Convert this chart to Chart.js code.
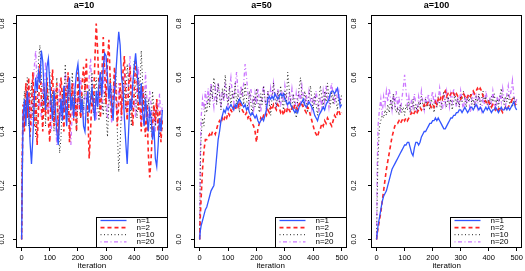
<!DOCTYPE html>
<html><head><meta charset="utf-8">
<script src="https://cdn.jsdelivr.net/npm/chart.js@4/dist/chart.umd.min.js"></script>
<style>
html,body{margin:0;padding:0;background:#fff;}
#wrap{position:relative;width:525px;height:271px;overflow:hidden;background:#fff;}
canvas{position:absolute;top:0;}
</style></head>
<body><div id="wrap">
<canvas id="c1" width="175" height="271" style="left:0px"></canvas>
<canvas id="c2" width="175" height="271" style="left:175px"></canvas>
<canvas id="c3" width="175" height="271" style="left:350px"></canvas>
</div>
<script>
const ITER = [0,2,5,10,15,20,25,30,35,40,
 45,50,55,60,65,70,75,80,85,90,
 95,100,105,110,115,120,125,130,135,140,
 145,150,155,160,165,170,175,180,185,190,
 195,200,205,210,215,220,225,230,235,240,
 245,250,255,260,265,270,275,280,285,290,
 295,300,305,310,315,320,325,330,335,340,
 345,350,355,360,365,370,375,380,385,390,
 395,400,405,410,415,420,425,430,435,440,
 445,450,455,460,465,470,475,480,485,490,
 495,500];

const X_TICKS = [0,100,200,300,400,500];
const Y_TICKS = [0.0,0.2,0.4,0.6,0.8];
const PANEL_TITLES = ['a=10','a=50','a=100'];
const SERIES_NAMES = ['n=1','n=2','n=10','n=20'];

// a=10
const A10_N1 = [0.00,0.20,0.45,0.52,0.42,0.55,0.48,0.36,0.28,0.38,
 0.52,0.60,0.55,0.62,0.58,0.70,0.66,0.55,0.48,0.64,
 0.67,0.58,0.50,0.44,0.55,0.48,0.40,0.35,0.45,0.52,
 0.44,0.57,0.50,0.42,0.55,0.60,0.48,0.53,0.45,0.56,
 0.62,0.65,0.58,0.47,0.52,0.42,0.40,0.50,0.55,0.47,
 0.52,0.56,0.50,0.44,0.55,0.49,0.58,0.62,0.53,0.64,
 0.69,0.68,0.60,0.52,0.58,0.50,0.44,0.55,0.62,0.70,
 0.77,0.72,0.60,0.56,0.45,0.36,0.28,0.40,0.52,0.48,
 0.58,0.64,0.69,0.62,0.55,0.50,0.58,0.47,0.42,0.52,
 0.46,0.40,0.48,0.45,0.37,0.42,0.30,0.27,0.35,0.45,
 0.40,0.48];
const A10_N2 = [0.00,0.25,0.50,0.40,0.58,0.45,0.60,0.38,0.50,0.62,
 0.42,0.55,0.35,0.48,0.65,0.52,0.40,0.57,0.46,0.60,
 0.44,0.36,0.55,0.63,0.42,0.50,0.58,0.38,0.47,0.60,
 0.52,0.40,0.56,0.46,0.62,0.36,0.50,0.58,0.44,0.53,
 0.40,0.62,0.50,0.45,0.58,0.64,0.55,0.67,0.48,0.30,
 0.40,0.55,0.48,0.66,0.80,0.70,0.56,0.45,0.60,0.75,
 0.62,0.50,0.66,0.74,0.58,0.45,0.52,0.64,0.55,0.42,
 0.50,0.58,0.46,0.62,0.68,0.52,0.44,0.56,0.64,0.50,
 0.42,0.55,0.66,0.60,0.48,0.52,0.40,0.57,0.46,0.38,
 0.50,0.32,0.23,0.30,0.42,0.50,0.44,0.52,0.40,0.48,
 0.36,0.45];
const A10_N10 = [0.00,0.30,0.45,0.55,0.48,0.60,0.42,0.52,0.58,0.45,
 0.55,0.38,0.50,0.66,0.72,0.60,0.48,0.55,0.42,0.58,
 0.50,0.62,0.47,0.55,0.40,0.52,0.60,0.45,0.32,0.38,
 0.55,0.48,0.65,0.52,0.44,0.57,0.50,0.62,0.46,0.55,
 0.40,0.52,0.58,0.45,0.54,0.48,0.60,0.52,0.44,0.56,
 0.50,0.62,0.47,0.55,0.60,0.50,0.44,0.58,0.52,0.46,
 0.55,0.48,0.38,0.50,0.60,0.54,0.46,0.58,0.62,0.40,
 0.25,0.35,0.50,0.60,0.55,0.48,0.65,0.58,0.50,0.42,
 0.56,0.66,0.52,0.45,0.60,0.54,0.70,0.58,0.48,0.55,
 0.44,0.52,0.46,0.40,0.55,0.48,0.42,0.50,0.45,0.38,
 0.44,0.40];
const A10_N20 = [0.00,0.35,0.48,0.44,0.52,0.46,0.58,0.50,0.42,0.55,
 0.64,0.70,0.56,0.48,0.52,0.45,0.58,0.50,0.66,0.55,
 0.46,0.52,0.40,0.48,0.56,0.44,0.35,0.50,0.58,0.45,
 0.52,0.47,0.62,0.55,0.50,0.44,0.35,0.48,0.58,0.52,
 0.45,0.55,0.48,0.60,0.50,0.44,0.56,0.52,0.47,0.60,
 0.67,0.54,0.46,0.52,0.44,0.56,0.50,0.62,0.48,0.55,
 0.68,0.52,0.45,0.56,0.50,0.43,0.55,0.62,0.50,0.46,
 0.58,0.52,0.44,0.55,0.62,0.50,0.46,0.60,0.68,0.55,
 0.48,0.52,0.45,0.58,0.64,0.50,0.42,0.55,0.48,0.62,
 0.52,0.45,0.55,0.50,0.42,0.48,0.40,0.52,0.46,0.54,
 0.44,0.50];

// a=50
const A50_N1 = [0.00,0.03,0.05,0.07,0.09,0.11,0.12,0.14,0.16,0.18,
 0.19,0.20,0.25,0.31,0.37,0.40,0.44,0.46,0.48,0.47,
 0.49,0.48,0.49,0.50,0.49,0.48,0.50,0.49,0.51,0.52,
 0.51,0.50,0.49,0.50,0.48,0.49,0.47,0.46,0.47,0.46,
 0.45,0.46,0.44,0.43,0.44,0.45,0.44,0.46,0.48,0.52,
 0.53,0.52,0.53,0.52,0.54,0.53,0.52,0.53,0.54,0.53,
 0.54,0.52,0.51,0.50,0.51,0.50,0.49,0.48,0.47,0.48,
 0.47,0.49,0.50,0.51,0.52,0.50,0.49,0.50,0.51,0.50,
 0.49,0.48,0.46,0.45,0.44,0.46,0.47,0.48,0.49,0.48,
 0.50,0.51,0.52,0.54,0.55,0.55,0.54,0.55,0.56,0.53,
 0.49,0.50];
const A50_N2 = [0.00,0.08,0.15,0.26,0.33,0.37,0.37,0.38,0.39,0.38,
 0.40,0.40,0.39,0.41,0.43,0.44,0.43,0.45,0.44,0.46,
 0.45,0.47,0.46,0.48,0.47,0.49,0.48,0.50,0.49,0.51,
 0.50,0.48,0.47,0.46,0.47,0.45,0.46,0.44,0.43,0.42,
 0.40,0.36,0.41,0.43,0.45,0.44,0.46,0.47,0.46,0.48,
 0.47,0.49,0.48,0.50,0.49,0.48,0.50,0.49,0.47,0.48,
 0.46,0.48,0.47,0.49,0.48,0.47,0.49,0.48,0.50,0.49,
 0.48,0.50,0.51,0.50,0.49,0.48,0.47,0.49,0.48,0.46,
 0.44,0.42,0.40,0.39,0.38,0.40,0.41,0.43,0.42,0.44,
 0.43,0.45,0.44,0.43,0.42,0.44,0.46,0.45,0.47,0.48,
 0.46,0.47];
const A50_N10 = [0.00,0.25,0.38,0.45,0.42,0.50,0.47,0.53,0.49,0.57,
 0.52,0.60,0.55,0.50,0.58,0.53,0.48,0.56,0.52,0.61,
 0.54,0.50,0.57,0.49,0.55,0.52,0.58,0.50,0.54,0.47,
 0.53,0.56,0.50,0.58,0.52,0.48,0.55,0.51,0.46,0.53,
 0.49,0.56,0.51,0.47,0.54,0.50,0.57,0.52,0.48,0.55,
 0.50,0.46,0.53,0.58,0.52,0.49,0.55,0.51,0.57,0.52,
 0.48,0.55,0.50,0.62,0.56,0.51,0.48,0.54,0.50,0.45,
 0.52,0.56,0.60,0.53,0.49,0.55,0.51,0.47,0.53,0.57,
 0.52,0.48,0.54,0.50,0.46,0.52,0.57,0.53,0.49,0.55,
 0.51,0.58,0.53,0.49,0.55,0.50,0.54,0.52,0.48,0.53,
 0.50,0.54];
const A50_N20 = [0.00,0.30,0.45,0.52,0.48,0.55,0.50,0.56,0.51,0.58,
 0.53,0.49,0.56,0.52,0.58,0.54,0.50,0.55,0.51,0.57,
 0.53,0.49,0.56,0.60,0.54,0.50,0.57,0.62,0.55,0.51,
 0.57,0.53,0.58,0.65,0.60,0.54,0.50,0.56,0.52,0.48,
 0.54,0.50,0.56,0.52,0.47,0.53,0.57,0.52,0.48,0.55,
 0.51,0.56,0.52,0.58,0.54,0.50,0.56,0.52,0.49,0.55,
 0.51,0.57,0.53,0.49,0.55,0.51,0.56,0.52,0.48,0.54,
 0.50,0.55,0.51,0.57,0.53,0.49,0.54,0.50,0.55,0.52,
 0.48,0.53,0.50,0.55,0.51,0.47,0.53,0.49,0.55,0.51,
 0.57,0.53,0.49,0.55,0.58,0.53,0.50,0.56,0.52,0.55,
 0.51,0.53];

// a=100
const A100_N1 = [0.00,0.02,0.05,0.08,0.11,0.14,0.16,0.17,0.18,0.20,
 0.22,0.24,0.26,0.27,0.28,0.29,0.30,0.31,0.32,0.33,
 0.34,0.35,0.35,0.36,0.36,0.34,0.32,0.31,0.34,0.36,
 0.36,0.35,0.36,0.38,0.39,0.40,0.40,0.41,0.42,0.43,
 0.43,0.44,0.44,0.45,0.44,0.45,0.44,0.43,0.42,0.41,
 0.41,0.42,0.43,0.44,0.45,0.45,0.46,0.46,0.47,0.47,
 0.48,0.48,0.47,0.48,0.49,0.48,0.47,0.48,0.49,0.49,
 0.48,0.49,0.50,0.49,0.48,0.49,0.48,0.47,0.48,0.49,
 0.48,0.49,0.48,0.47,0.48,0.48,0.49,0.48,0.47,0.48,
 0.49,0.48,0.48,0.49,0.48,0.49,0.48,0.49,0.50,0.51,
 0.49,0.48];
const A100_N2 = [0.00,0.02,0.04,0.07,0.10,0.14,0.18,0.22,0.26,0.29,
 0.32,0.35,0.38,0.40,0.42,0.43,0.43,0.44,0.43,0.44,
 0.45,0.44,0.45,0.44,0.45,0.46,0.47,0.46,0.47,0.48,
 0.47,0.48,0.49,0.48,0.49,0.50,0.49,0.50,0.51,0.50,
 0.49,0.50,0.49,0.51,0.50,0.52,0.51,0.53,0.52,0.54,
 0.55,0.53,0.54,0.53,0.54,0.55,0.54,0.53,0.54,0.53,
 0.53,0.52,0.53,0.54,0.53,0.52,0.53,0.54,0.53,0.54,
 0.55,0.54,0.55,0.56,0.55,0.56,0.55,0.53,0.52,0.51,
 0.50,0.51,0.50,0.49,0.50,0.49,0.48,0.49,0.48,0.49,
 0.48,0.47,0.48,0.49,0.48,0.49,0.50,0.51,0.52,0.51,
 0.50,0.51];
const A100_N10 = [0.00,0.15,0.30,0.42,0.44,0.46,0.45,0.48,0.46,0.50,
 0.47,0.52,0.48,0.54,0.50,0.47,0.49,0.46,0.50,0.47,
 0.49,0.46,0.50,0.48,0.51,0.47,0.49,0.52,0.48,0.50,
 0.47,0.51,0.49,0.53,0.50,0.48,0.52,0.49,0.51,0.48,
 0.52,0.50,0.47,0.51,0.49,0.53,0.50,0.48,0.52,0.55,
 0.51,0.49,0.53,0.50,0.52,0.48,0.51,0.54,0.50,0.52,
 0.49,0.53,0.51,0.55,0.52,0.49,0.53,0.51,0.54,0.50,
 0.52,0.49,0.53,0.51,0.54,0.50,0.52,0.55,0.51,0.53,
 0.50,0.52,0.49,0.53,0.51,0.54,0.50,0.52,0.49,0.53,
 0.56,0.52,0.50,0.53,0.51,0.54,0.50,0.52,0.49,0.53,
 0.51,0.50];
const A100_N20 = [0.00,0.25,0.42,0.48,0.52,0.46,0.53,0.50,0.55,0.51,
 0.56,0.52,0.48,0.54,0.50,0.55,0.49,0.53,0.47,0.52,
 0.56,0.61,0.55,0.50,0.53,0.48,0.52,0.49,0.54,0.50,
 0.47,0.53,0.50,0.55,0.51,0.48,0.53,0.50,0.54,0.49,
 0.52,0.55,0.50,0.53,0.49,0.52,0.56,0.51,0.48,0.53,
 0.50,0.55,0.52,0.49,0.54,0.51,0.56,0.52,0.49,0.53,
 0.50,0.55,0.51,0.48,0.53,0.50,0.54,0.51,0.47,0.52,
 0.55,0.50,0.53,0.49,0.54,0.51,0.48,0.53,0.50,0.55,
 0.52,0.49,0.53,0.50,0.55,0.51,0.48,0.53,0.50,0.54,
 0.51,0.56,0.52,0.49,0.54,0.57,0.52,0.55,0.59,0.53,
 0.50,0.52];

const FONT = "'Liberation Sans', Arial, sans-serif";
const STYLES = [
  {color:'#3355ff', width:1.3, dash:[]},
  {color:'#ff2424', width:1.6, dash:[4,3]},
  {color:'#222222', width:1, dash:[1,2.5]},
  {color:'#cc77ff', width:1.3, dash:[1,2.5,4,2.5]}
];

const boxLegend = {
  id: 'boxLegend',
  afterDatasetsDraw(chart) {
    const {ctx, chartArea: a} = chart;
    ctx.save();
    ctx.setLineDash([]);
    ctx.strokeStyle = '#000'; ctx.lineWidth = 1;
    const L = Math.round(a.left) + 0.5, T = Math.round(a.top) + 0.5;
    const R = Math.round(a.right) - 0.5, B = Math.round(a.bottom) - 0.5;
    ctx.strokeRect(L, T, R - L, B - T);
    const lx = R - 71, ly = B - 30;
    ctx.fillStyle = '#fff';
    ctx.fillRect(lx, ly, R - lx, B - ly);
    ctx.strokeRect(lx, ly, R - lx, B - ly);
    chart.data.datasets.forEach((ds, i) => {
      const y = ly + 3 + 7.1 * i;
      ctx.strokeStyle = ds.borderColor; ctx.lineWidth = ds.borderWidth;
      ctx.setLineDash(ds.borderDash || []);
      ctx.beginPath(); ctx.moveTo(lx + 4, y); ctx.lineTo(lx + 30, y); ctx.stroke();
      ctx.setLineDash([]);
      ctx.fillStyle = '#000'; ctx.font = '8px ' + FONT;
      ctx.textBaseline = 'middle'; ctx.textAlign = 'left';
      ctx.fillText(ds.label, lx + 40, y);
    });
    ctx.restore();
  }
};

function makePanel(id, title, seriesList, yWidth, padRight, yPad) {
  const datasets = seriesList.map((vals, i) => ({
    label: SERIES_NAMES[i],
    data: ITER.map((x, k) => ({x: x, y: vals[k]})),
    borderColor: STYLES[i].color,
    borderWidth: STYLES[i].width,
    borderDash: STYLES[i].dash,
    pointRadius: 0,
    fill: false,
    tension: 0
  }));
  const gridOpt = {display: true, drawOnChartArea: false, drawTicks: true, tickLength: 3, color: '#000', lineWidth: 1};
  new Chart(document.getElementById(id), {
    type: 'line',
    data: {datasets: datasets},
    options: {
      responsive: false, animation: false, devicePixelRatio: 1,
      layout: {padding: {left: 0, right: padRight, top: 0, bottom: 0}},
      plugins: {
        legend: {display: false}, tooltip: {enabled: false},
        title: {display: true, text: title, color: '#000',
          font: {family: FONT, size: 9, weight: 'bold'}, padding: {top: 0.6, bottom: 3.6}}
      },
      scales: {
        x: {
          type: 'linear', min: -20, max: 520,
          afterBuildTicks: s => { s.ticks = X_TICKS.map(v => ({value: v})); },
          ticks: {callback: v => String(v), color: '#000', font: {family: FONT, size: 7.5},
            padding: 2, maxRotation: 0, minRotation: 0, autoSkip: false},
          grid: gridOpt,
          border: {display: false},
          title: {display: true, text: 'iteration', color: '#000',
            font: {family: FONT, size: 8}, padding: {top: 0, bottom: 0}},
          afterFit: s => { s.height = 23; }
        },
        y: {
          type: 'linear', min: -0.032, max: 0.832,
          afterBuildTicks: s => { s.ticks = Y_TICKS.map(v => ({value: v})); },
          ticks: {callback: v => Number(v).toFixed(1), color: '#000', font: {family: FONT, size: 7.5},
            minRotation: 90, maxRotation: 90, crossAlign: 'center', padding: yPad, autoSkip: false},
          grid: gridOpt,
          border: {display: false},
          afterFit: s => { s.width = yWidth; }
        }
      }
    },
    plugins: [boxLegend]
  });
}

makePanel('c1', PANEL_TITLES[0], [A10_N1, A10_N2, A10_N10, A10_N20], 16, 7, 5.5);
makePanel('c2', PANEL_TITLES[1], [A50_N1, A50_N2, A50_N10, A50_N20], 19, 2, 7);
makePanel('c3', PANEL_TITLES[2], [A100_N1, A100_N2, A100_N10, A100_N20], 21, 2, 9);
</script>
</body></html>
